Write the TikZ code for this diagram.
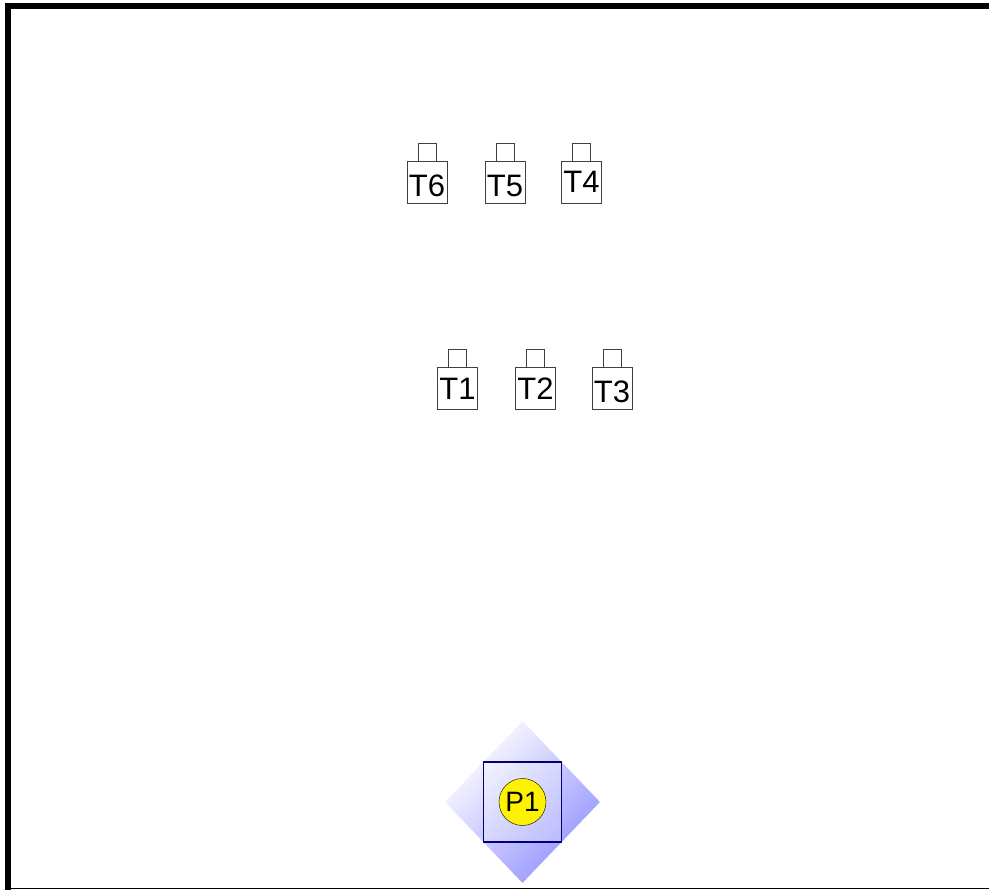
\documentclass[tikz,border=0pt]{standalone}
\usepackage{fontspec}
\setmainfont{Liberation Sans}
\usetikzlibrary{positioning,shapes.geometric}

\begin{document}
\begin{tikzpicture}[x=1pt,y=-1pt,
    tag/.style={draw=black!75, line width=0.8pt, outer sep=0pt, inner sep=0pt,
        minimum width=40pt, minimum height=42pt, font=\fontsize{31}{31}\selectfont},
    sunk/.style={text height=29pt},
    tagcap/.style={draw=black!75, line width=0.8pt, outer sep=0pt, inner sep=0pt,
        minimum size=18pt}]
    \useasboundingbox (0,0) rectangle (989,890);

    %frame
    \draw[line width=6pt] (7.5,890) -- (7.5,6) -- (989,6);
    \draw[line width=1.5pt] (7.5,888.5) -- (989,888.5);

    %top row
    \node[tag, sunk] (t6) at (427,182) {T6};
    \node[tag, sunk] (t5) at (505,182) {T5};
    \node[tag] (t4) at (581.5,182) {T4};

    %bottom row
    \node[tag] (t1) at (457.5,388.5) {T1};
    \node[tag] (t2) at (535.5,388.5) {T2};
    \node[tag, sunk] (t3) at (612,388.5) {T3};

    %caps
    \foreach \tg in {t1,t2,t3,t4,t5,t6}
        \node[tagcap, above=0pt of \tg] (cap\tg) {};

    %pump
    \node[diamond, inner sep=0pt, minimum width=155pt, minimum height=162pt,
        top color=white, middle color=blue!9, bottom color=blue!42,
        shading angle=45] (p1zone) at (522.5,802) {};
    \node[draw=blue!45!black, line width=1.3pt, fill=white, fill opacity=0.25,
        minimum width=78pt, minimum height=80pt] (p1box) at (p1zone.center) {};
    \node[circle, draw, fill=yellow, minimum size=47pt, inner sep=0pt,
        font=\fontsize{28}{28}\selectfont] (p1) at (p1box.center) {P1};
\end{tikzpicture}
\end{document}
